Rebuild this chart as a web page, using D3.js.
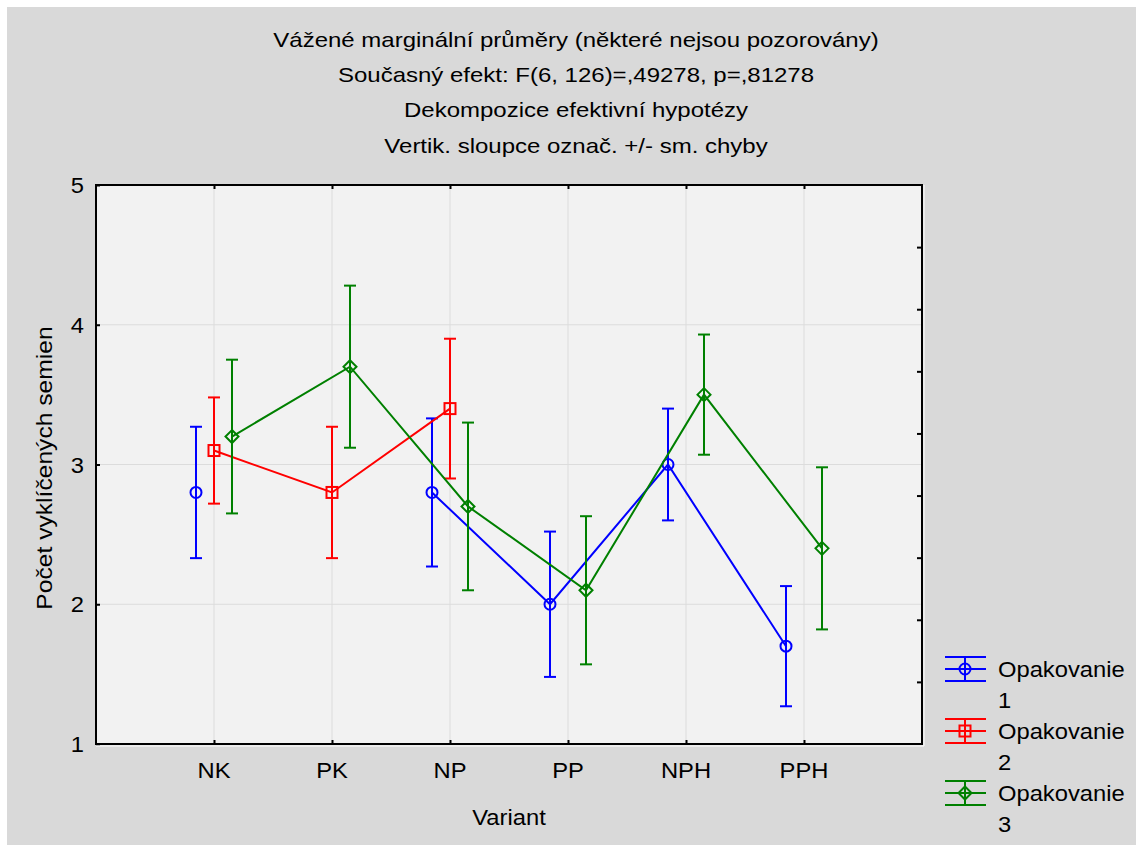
<html>
<head>
<meta charset="utf-8">
<script src="https://d3js.org/d3.v7.min.js"></script>
<style>
    body {
        margin: 0;
        background: #ffffff;
        font-family: "Liberation Sans", Arial, Helvetica, sans-serif;
    }
</style>
</head>
<body>
<svg id="chart" width="1136" height="845"></svg>
<script>
    let categories = ["NK", "PK", "NP", "PP", "NPH", "PPH"]
    let seriesNames = ["Opakovanie 1", "Opakovanie 2", "Opakovanie 3"]
    let means1 = [2.8, null, 2.8, 2.0, 3.0, 1.7]
    let se1 = [0.47, null, 0.53, 0.52, 0.40, 0.43]
    let means2 = [3.1, 2.8, 3.4, null, null, null]
    let se2 = [0.38, 0.47, 0.50, null, null, null]
    let means3 = [3.2, 3.7, 2.7, 2.1, 3.5, 2.4]
    let se3 = [0.55, 0.58, 0.60, 0.53, 0.43, 0.58]
    let yTicks = [1, 2, 3, 4, 5]
    let titleLines = [
        "Vážené marginální průměry (některé nejsou pozorovány)",
        "Současný efekt: F(6, 126)=,49278, p=,81278",
        "Dekompozice efektivní hypotézy",
        "Vertik. sloupce označ. +/- sm. chyby"
    ]

    let colors = ["#0000ff", "#ff0000", "#008000"]
    let shapes = ["circle", "square", "diamond"]
    let offsets = [-18, 0, 18]

    let plot = {left: 96, right: 922, top: 185, bottom: 744}

    let svg = d3.select("#chart")

    // background with the thin white frame at top/left
    svg.append("rect")
        .attr("x", 7).attr("y", 7)
        .attr("width", 1136 - 7).attr("height", 845 - 7)
        .attr("fill", "#d9d9d9")

    let xScale = d3.scaleLinear()
        .domain([0, categories.length + 1])
        .range([plot.left, plot.right])

    let yScale = d3.scaleLinear()
        .domain([1, 5])
        .range([plot.bottom, plot.top])

    // wide text like the original
    function addText(g, str, x, y, size, sx, anchor, rotate) {
        let t = `translate(${x},${y})`
        if (rotate) t += ` rotate(${rotate})`
        t += ` scale(${sx},1)`
        return g.append("text")
            .attr("transform", t)
            .attr("text-anchor", anchor || "middle")
            .attr("font-size", size)
            .attr("fill", "#000")
            .text(str)
    }

    // titles
    let titleY = [47, 82, 117, 153]
    titleLines.forEach((line, i) => {
        addText(svg, line, 576, titleY[i], 20, 1.2, "middle")
    })

    // plot area
    svg.append("rect")
        .attr("x", plot.left).attr("y", plot.top)
        .attr("width", plot.right - plot.left)
        .attr("height", plot.bottom - plot.top)
        .attr("fill", "#f2f2f2")

    // grid
    let grid = svg.append("g")
    grid.selectAll(".vgrid")
        .data(categories)
        .enter().append("line")
        .attr("x1", (d, i) => xScale(i + 1)).attr("x2", (d, i) => xScale(i + 1))
        .attr("y1", plot.top).attr("y2", plot.bottom)
        .attr("stroke", "#dcdcdc").attr("stroke-width", 1)
    grid.selectAll(".hgrid")
        .data(yTicks.slice(1, -1))
        .enter().append("line")
        .attr("x1", plot.left).attr("x2", plot.right)
        .attr("y1", d => yScale(d)).attr("y2", d => yScale(d))
        .attr("stroke", "#dcdcdc").attr("stroke-width", 1)

    // axes: all ticks point inward
    let xAxisBottom = d3.axisBottom(xScale)
        .tickValues(categories.map((d, i) => i + 1))
        .tickSize(-4)
        .tickFormat("")
    let xAxisTop = d3.axisTop(xScale)
        .tickValues(categories.map((d, i) => i + 1))
        .tickSize(-4)
        .tickFormat("")
    let yAxisLeft = d3.axisLeft(yScale)
        .tickValues(yTicks)
        .tickSize(-4)
        .tickFormat("")
    let rightScale = d3.scaleLinear().domain([0, 9]).range([plot.bottom, plot.top])
    let yAxisRight = d3.axisRight(rightScale)
        .tickValues(d3.range(1, 9))
        .tickSize(-5)
        .tickFormat("")

    function styleAxis(g) {
        g.select(".domain").remove()
        g.selectAll(".tick line").attr("stroke", "#000").attr("stroke-width", 2)
    }
    svg.append("g").attr("transform", `translate(0,${plot.bottom})`).call(xAxisBottom).call(styleAxis)
    svg.append("g").attr("transform", `translate(0,${plot.top})`).call(xAxisTop).call(styleAxis)
    svg.append("g").attr("transform", `translate(${plot.left},0)`).call(yAxisLeft).call(styleAxis)
    svg.append("g").attr("transform", `translate(${plot.right},0)`).call(yAxisRight).call(styleAxis)

    // frame with light edge on right / bottom
    svg.append("path")
        .attr("d", `M${plot.right + 2},${plot.top}V${plot.bottom + 2}H${plot.left}`)
        .attr("fill", "none").attr("stroke", "#ffffff").attr("stroke-width", 1)
    svg.append("rect")
        .attr("x", plot.left).attr("y", plot.top)
        .attr("width", plot.right - plot.left)
        .attr("height", plot.bottom - plot.top)
        .attr("fill", "none").attr("stroke", "#000").attr("stroke-width", 2)

    // tick labels
    yTicks.forEach(v => {
        addText(svg, v, 84, yScale(v) + 8, 22, 1.08, "end")
    })
    categories.forEach((c, i) => {
        addText(svg, c, xScale(i + 1), 778, 22, 1.08, "middle")
    })
    addText(svg, "Variant", 509, 825, 22, 1.08, "middle")
    addText(svg, "Počet vyklíčených semien", 52, 468, 22, 1.12, "middle", -90)

    // marker drawing
    function drawMarker(g, shape, x, y, color) {
        if (shape === "circle") {
            g.append("circle")
                .attr("cx", x).attr("cy", y).attr("r", 5.5)
                .attr("fill", "none").attr("stroke", color).attr("stroke-width", 2)
        } else if (shape === "square") {
            g.append("rect")
                .attr("x", x - 5.5).attr("y", y - 5.5)
                .attr("width", 11).attr("height", 11)
                .attr("fill", "none").attr("stroke", color).attr("stroke-width", 2)
        } else {
            g.append("path")
                .attr("d", `M${x},${y - 6.5}L${x + 6.5},${y}L${x},${y + 6.5}L${x - 6.5},${y}Z`)
                .attr("fill", "none").attr("stroke", color).attr("stroke-width", 2)
        }
    }

    let allMeans = [means1, means2, means3]
    let allSe = [se1, se2, se3]

    allMeans.forEach((means, s) => {
        let color = colors[s]
        let data = means.map((m, i) => ({i: i, mean: m, se: allSe[s][i]}))
        let g = svg.append("g")

        let line = d3.line()
            .defined(d => d.mean !== null)
            .x(d => xScale(d.i + 1) + offsets[s])
            .y(d => yScale(d.mean))
        g.append("path")
            .datum(data)
            .attr("d", line)
            .attr("fill", "none")
            .attr("stroke", color)
            .attr("stroke-width", 2)

        data.filter(d => d.mean !== null).forEach(d => {
            let x = xScale(d.i + 1) + offsets[s]
            let y1 = yScale(d.mean + d.se)
            let y2 = yScale(d.mean - d.se)
            g.append("line")
                .attr("x1", x).attr("x2", x).attr("y1", y1).attr("y2", y2)
                .attr("stroke", color).attr("stroke-width", 2)
            ;[y1, y2].forEach(yy => {
                g.append("line")
                    .attr("x1", x - 6).attr("x2", x + 6).attr("y1", yy).attr("y2", yy)
                    .attr("stroke", color).attr("stroke-width", 2)
            })
            drawMarker(g, shapes[s], x, yScale(d.mean), color)
        })
    })

    // legend
    let legend = svg.append("g")
    seriesNames.forEach((name, s) => {
        let cy = 669 + s * 62
        let color = colors[s]
        ;[cy - 12, cy, cy + 12].forEach(yy => {
            legend.append("line")
                .attr("x1", 945).attr("x2", 986).attr("y1", yy).attr("y2", yy)
                .attr("stroke", color).attr("stroke-width", 2)
        })
        legend.append("line")
            .attr("x1", 965).attr("x2", 965).attr("y1", cy - 12).attr("y2", cy + 12)
            .attr("stroke", color).attr("stroke-width", 2)
        drawMarker(legend, shapes[s], 965, cy, color)
        let parts = name.split(" ")
        addText(legend, parts[0], 998, cy + 8, 22, 1.08, "start")
        addText(legend, parts[1], 998, cy + 39, 22, 1.08, "start")
    })
</script>
</body>
</html>
